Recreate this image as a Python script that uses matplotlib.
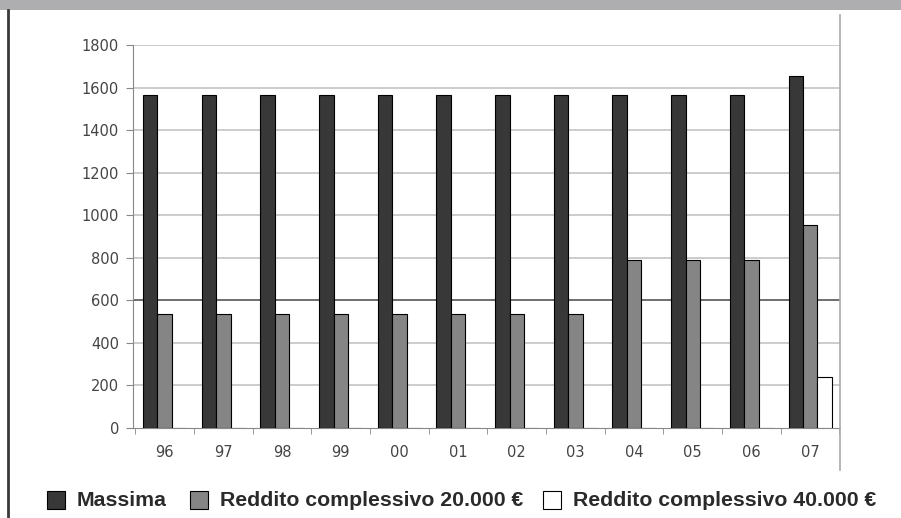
import numpy as np
import matplotlib.pyplot as plt
from matplotlib.patches import Rectangle
from matplotlib.lines import Line2D

# data
anni = ["96", "97", "98", "99", "00", "01", "02", "03", "04", "05", "06", "07"]
massima = [1565, 1565, 1565, 1565, 1565, 1565, 1565, 1565, 1565, 1565, 1565, 1655]
reddito_20k = [535, 535, 535, 535, 535, 535, 535, 535, 790, 790, 790, 952]
reddito_40k = [0, 0, 0, 0, 0, 0, 0, 0, 0, 0, 0, 240]

W, H = 901, 518
fig = plt.figure(figsize=(W / 100, H / 100), dpi=100)
fig.patch.set_facecolor("white")

# top band and left border
fig.add_artist(Rectangle((0, 1 - 10 / H), 1, 10 / H, transform=fig.transFigure,
                         color="#aeaeb0", lw=0))
fig.add_artist(Line2D([8 / W, 8 / W], [0, 1 - 10 / H], transform=fig.transFigure,
                      color="#3a3a3a", lw=2))

ax = fig.add_axes([133 / W, 1 - 428 / H, (840 - 133) / W, (428 - 45) / H])
x = np.arange(len(anni))
bw = 0.245
ax.bar(x - bw, massima, bw, color="#383838", edgecolor="black", lw=0.8, zorder=3)
ax.bar(x, reddito_20k, bw, color="#858585", edgecolor="black", lw=0.8, zorder=3)
ax.bar(x + bw, reddito_40k, bw, color="white", edgecolor="black", lw=0.8, zorder=3)

ax.set_xlim(-0.54, len(anni) - 0.49)
ax.set_ylim(0, 1800)
ax.set_yticks(range(0, 1801, 200))
ax.set_yticklabels([str(v) for v in range(0, 1801, 200)], fontsize=10.5, color="#444444")
for v in range(200, 1801, 200):
    ax.axhline(v, color="#555555" if v == 600 else "#c4c4c4", lw=1.2, zorder=1)

ax.set_xticks(x)
ax.set_xticklabels(anni, fontsize=10.5, color="#444444")
ax.set_xticks(np.arange(-0.5, len(anni)), minor=True)
ax.tick_params(axis="x", which="major", length=0, pad=12)
ax.tick_params(axis="x", which="minor", length=4, color="#888888")
ax.tick_params(axis="y", length=5, color="#888888", pad=5)
for s in ["top", "right"]:
    ax.spines[s].set_visible(False)
ax.spines["left"].set_color("#888888")
ax.spines["bottom"].set_color("#888888")

# right border of the chart box
fig.add_artist(Line2D([840 / W, 840 / W], [1 - 470 / H, 1 - 15 / H], transform=fig.transFigure,
                      color="#aaaaaa", lw=1.2))

# legend
ly = 1 - 500 / H
items = [(47, "#383838", "Massima"),
         (190, "#858585", "Reddito complessivo 20.000 €"),
         (543, "white", "Reddito complessivo 40.000 €")]
for px, col, lab in items:
    fig.add_artist(Rectangle((px / W, ly - 9 / H), 18 / W, 18 / H, transform=fig.transFigure,
                             facecolor=col, edgecolor="black", lw=0.8))
    fig.text((px + 30) / W, ly, lab, fontsize=15.3, fontweight="bold", va="center",
             ha="left", color="#2a2a2a", family="Liberation Sans")

fig.savefig("out.png", dpi=100)
